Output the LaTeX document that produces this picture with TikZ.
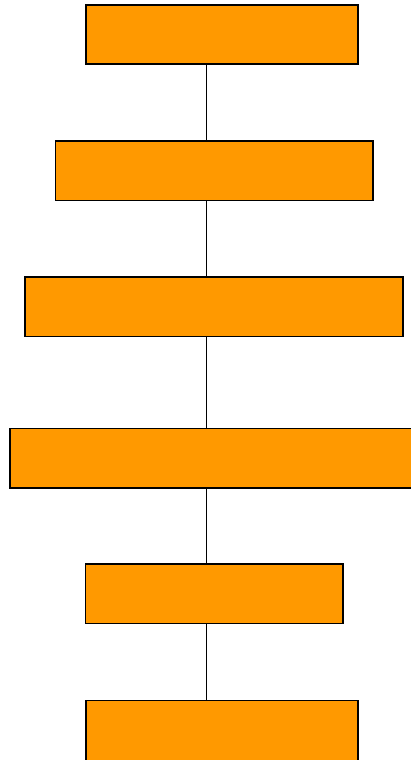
\documentclass[tikz,border=0pt]{standalone}
\begin{document}
\begin{tikzpicture}[x=1pt,y=-1pt,
  box/.style={draw=black,fill=boxorange,line width=1.2pt,inner sep=0pt,outer sep=0pt},
  link/.style={draw=black,line width=1.2pt}]
\definecolor{boxorange}{HTML}{FF9900}
\useasboundingbox (0,0) rectangle (411,760);
\coordinate (ax) at (206.5,0);
\node[box,minimum width=272pt,minimum height=59pt] (b1) at (222,34.5) {};
\node[box,minimum width=317.5pt,minimum height=59.5pt] (b2) at (214.25,170.75) {};
\node[box,minimum width=378pt,minimum height=59.5pt] (b3) at (214,306.75) {};
\node[box,minimum width=404pt,minimum height=59.5pt] (b4) at (212,458.25) {};
\node[box,minimum width=257.5pt,minimum height=59.5pt] (b5) at (214.25,593.75) {};
\node[box,minimum width=272pt,minimum height=61.5pt] (b6) at (222,731.25) {};
\draw[link] (b1.south -| ax) -- (b2.north -| ax);
\draw[link] (b2.south -| ax) -- (b3.north -| ax);
\draw[link] (b3.south -| ax) -- (b4.north -| ax);
\draw[link] (b4.south -| ax) -- (b5.north -| ax);
\draw[link] (b5.south -| ax) -- (b6.north -| ax);
\end{tikzpicture}
\end{document}
